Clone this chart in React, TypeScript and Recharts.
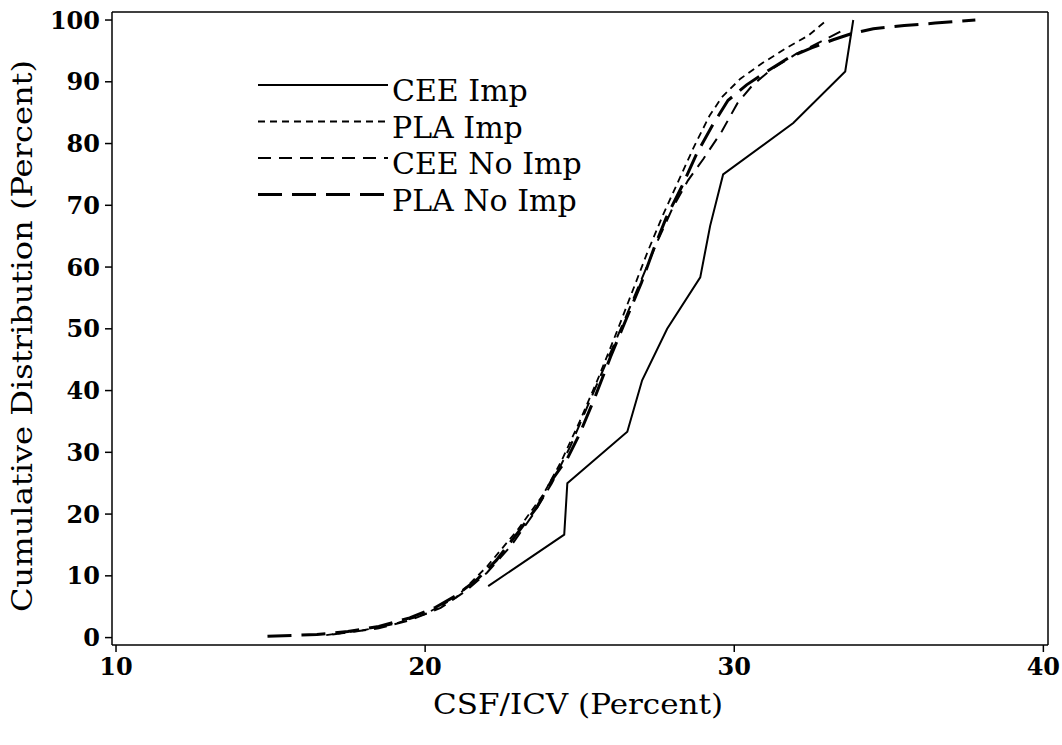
import { LineChart, Line, XAxis, YAxis, Legend, ReferenceLine } from 'recharts';

const FONT = '"DejaVu Serif", "Liberation Serif", serif';

const xTicks = [10, 20, 30, 40];
const yTicks = [0, 10, 20, 30, 40, 50, 60, 70, 80, 90, 100];
const yMinorTicks = [2, 4, 6, 8, 12, 14, 16, 18, 22, 24, 26, 28, 32, 34, 36, 38, 42, 44, 46, 48, 52, 54, 56, 58, 62, 64, 66, 68, 72, 74, 76, 78, 82, 84, 86, 88, 92, 94, 96, 98];

// CEE Imp (solid)
const ceeImpX = [22.04, 24.5, 24.6, 26.54, 27.02, 27.83, 28.9, 29.22, 29.64, 31.91, 33.59, 33.85];
const ceeImpY = [8.33, 16.67, 25, 33.33, 41.67, 50, 58.33, 66.67, 75, 83.33, 91.67, 100];

// PLA Imp (short dash)
const plaImpX = [16.8, 18.0, 19.0, 20.0, 21.0, 22.0, 23.0, 23.8, 24.4, 25.0, 25.6, 26.2, 26.7, 27.2, 27.7, 28.2, 28.7, 29.2, 29.6, 30.2, 30.9, 31.7, 32.4, 33.0];
const plaImpY = [0.4, 1.2, 2.2, 3.8, 6.5, 11.5, 17.5, 23, 28.5, 35, 42, 49.5, 56, 62.5, 68.5, 74, 79.5, 84.5, 87.5, 90.5, 93, 95.5, 97.5, 100];

// CEE No Imp (medium dash)
const ceeNoImpX = [17.0, 18.5, 19.5, 20.5, 21.3, 22.0, 22.8, 23.5, 24.1, 24.7, 25.3, 25.9, 26.5, 27.0, 27.5, 28.0, 28.5, 29.0, 29.6, 30.1, 30.6, 31.2, 32.0, 32.8, 33.5];
const ceeNoImpY = [0.5, 1.5, 2.8, 4.8, 7.5, 10.5, 15, 20, 25, 31, 38, 45, 52, 58, 64, 69.5, 74, 77.5, 82, 86.5, 89.5, 92, 94.5, 96.5, 98.3];

// PLA No Imp (long dash, heavy)
const plaNoImpX = [14.9, 16.5, 17.5, 18.5, 19.5, 20.3, 21.0, 21.7, 22.3, 23.0, 23.6, 24.1, 24.6, 25.0, 25.5, 26.0, 26.5, 27.0, 27.4, 27.8, 28.3, 28.8, 29.3, 29.8, 30.4, 31.0, 31.8, 32.5, 33.2, 33.8, 34.5, 35.5, 36.5, 37.8];
const plaNoImpY = [0.2, 0.5, 1.0, 1.8, 3.2, 4.8, 6.8, 9.5, 12.5, 17, 21, 25.5, 29, 33, 39, 45.5, 51.5, 57.5, 63, 68, 73, 78.5, 83, 87, 89.5, 91.5, 94, 95.5, 96.8, 97.8, 98.6, 99.1, 99.5, 100];

const seriesNames = ['CEE Imp', 'PLA Imp', 'CEE No Imp', 'PLA No Imp'];
const seriesDash = ['', '7 5', '13 8', '24 10'];
const seriesWidth = [2, 1.8, 2, 3];

const zip = (xs: number[], ys: number[]) => xs.map((x, i) => ({ x, y: ys[i] }));
const seriesData = [
  zip(ceeImpX, ceeImpY),
  zip(plaImpX, plaImpY),
  zip(ceeNoImpX, ceeNoImpY),
  zip(plaNoImpX, plaNoImpY),
];

const X_DOMAIN: [number, number] = [9.87, 40.15];
const Y_DOMAIN: [number, number] = [-1.2, 101.3];

const tickStyle = { fill: '#000', fontSize: 24, fontWeight: 700, fontFamily: FONT };

function LegendBox() {
  return (
    <svg width={380} height={160}>
      {seriesNames.map((name, i) => {
        const y = 12 + i * 36.5;
        return (
          <g key={name}>
            <line x1={0} x2={130} y1={y} y2={y} stroke="#000" strokeWidth={seriesWidth[i]} strokeDasharray={seriesDash[i] || undefined} />
            <text x={134} y={y + 8} dominantBaseline="middle" fontFamily={FONT} fontSize={30} fill="#000">
              {name}
            </text>
          </g>
        );
      })}
    </svg>
  );
}

export default function App() {
  return (
    <div style={{ position: 'absolute', left: 0, top: 0, background: '#fff' }}>
      <LineChart width={1062} height={745} margin={{ top: 12, right: 14, bottom: 0, left: 0 }}>
        <XAxis
          xAxisId="main"
          dataKey="x"
          type="number"
          domain={X_DOMAIN}
          ticks={xTicks}
          allowDataOverflow
          height={100}
          stroke="#000"
          strokeWidth={1.5}
          tickSize={7}
          tickMargin={6}
          tick={tickStyle}
          label={{
            content: () => (
              <text x={578} y={714} textAnchor="middle" fontFamily={FONT} fontSize={28} fill="#000" textLength={290} lengthAdjust="spacingAndGlyphs">
                CSF/ICV (Percent)
              </text>
            ),
          }}
        />
        <YAxis
          yAxisId="minor"
          type="number"
          domain={Y_DOMAIN}
          ticks={yMinorTicks}
          allowDataOverflow
          width={0}
          axisLine={false}
          tickSize={3}
          tickLine={{ stroke: '#000', strokeWidth: 1 }}
          tick={() => <g />}
        />
        <YAxis
          yAxisId="main"
          type="number"
          domain={Y_DOMAIN}
          ticks={yTicks}
          allowDataOverflow
          width={112}
          stroke="#000"
          strokeWidth={1.5}
          tickSize={7}
          tickMargin={5}
          tick={tickStyle}
          label={{
            content: () => (
              <text x={24} y={336} transform="rotate(-90 24 336)" textAnchor="middle" dominantBaseline="middle" fontFamily={FONT} fontSize={28} fill="#000" textLength={552} lengthAdjust="spacingAndGlyphs">
                Cumulative Distribution (Percent)
              </text>
            ),
          }}
        />
        <ReferenceLine xAxisId="main" yAxisId="main" y={Y_DOMAIN[1]} stroke="#000" strokeWidth={1.5} ifOverflow="visible" />
        <ReferenceLine xAxisId="main" yAxisId="main" x={X_DOMAIN[1]} stroke="#000" strokeWidth={1.5} ifOverflow="visible" />
        <Legend
          layout="vertical"
          verticalAlign="middle"
          align="center"
          wrapperStyle={{ left: 258, top: 73, width: 380 }}
          content={() => <LegendBox />}
        />
        {seriesNames.map((name, i) => (
          <Line
            key={name}
            name={name}
            xAxisId="main"
            yAxisId="main"
            data={seriesData[i]}
            dataKey="y"
            type="linear"
            stroke="#000"
            strokeWidth={seriesWidth[i]}
            strokeDasharray={seriesDash[i] || undefined}
            dot={false}
            activeDot={false}
            isAnimationActive={false}
          />
        ))}
      </LineChart>
    </div>
  );
}
